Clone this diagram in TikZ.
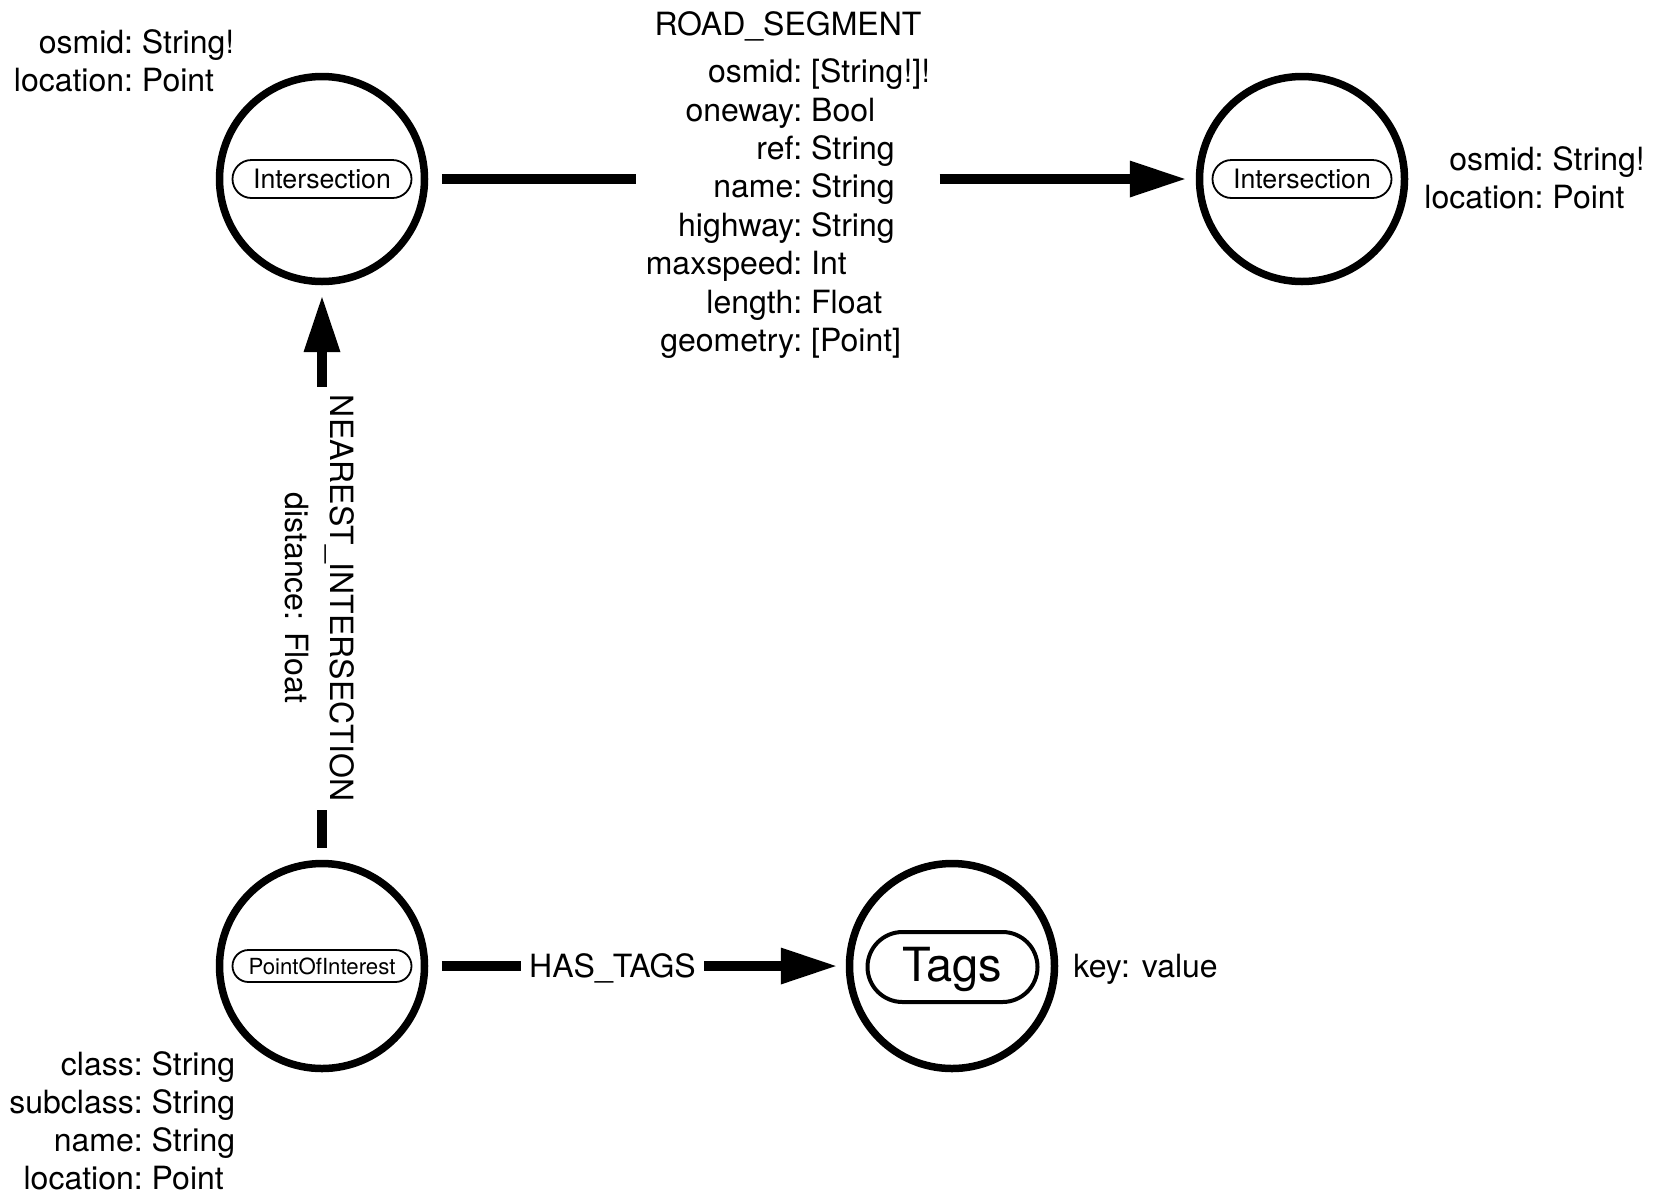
\documentclass[tikz,border=0pt]{standalone}
\usepackage{fontspec}
\setmainfont{TeX Gyre Heros}
\usetikzlibrary{arrows.meta,shapes.misc}
\begin{document}
\begin{tikzpicture}[x=0.5pt,y=-0.5pt,
  entity/.style={circle,draw,line width=3.75pt,minimum size=102.5pt,inner sep=0pt},
  pill/.style={rounded rectangle,draw,line width=0.9pt,inner sep=0pt},
  rel/.style={line width=5pt},
  relarrow/.style={rel,-{Triangle[length=27.5pt,width=18.5pt,line width=0pt]}},
  props/.style={inner sep=0pt,anchor=base west,font=\fontsize{16pt}{19.1pt}\selectfont},
  lbl/.style={font=\fontsize{16pt}{19.1pt}\selectfont}
]
\useasboundingbox (0,0) rectangle (1653,1200);

% entities
\node[entity] (i1) at (322,179) {};
\node[pill,minimum width=89.5pt,minimum height=19pt,font=\fontsize{13.35pt}{16pt}\selectfont] (i1p) at (i1.center) {Intersection};
\node[entity] (i2) at (1302,179) {};
\node[pill,minimum width=89.5pt,minimum height=19pt,font=\fontsize{13.35pt}{16pt}\selectfont] (i2p) at (i2.center) {Intersection};
\node[entity] (poi) at (322,966) {};
\node[pill,minimum width=89.5pt,minimum height=16pt,font=\fontsize{11.1pt}{13pt}\selectfont] (poip) at (poi.center) {PointOfInterest};
\node[entity] (tags) at (952,966) {};
\node[pill,line width=2pt,minimum width=85pt,minimum height=35pt,text depth=2.5pt,font=\fontsize{23.5pt}{27pt}\selectfont] (tagsp) at (952.5,967) {Tags};

% properties
\node[props] (i1props) at (13.5,53.5) {\begin{tabular}[t]{@{}r@{:\ }l@{}}osmid&String!\\location&Point\end{tabular}};
\node[props] (i2props) at (1424,170.5) {\begin{tabular}[t]{@{}r@{:\ }l@{}}osmid&String!\\location&Point\end{tabular}};
\node[props] (poiprops) at (9,1075) {\begin{tabular}[t]{@{}r@{:\ }l@{}}class&String\\subclass&String\\name&String\\location&Point\end{tabular}};
\node[lbl,anchor=base west,inner sep=0pt] (tagsprops) at (1073,977.5) {key: value};

% relationship labels
\node[props,inner xsep=4.5pt,font=\fontsize{16pt}{19.2pt}\selectfont] (rs) at (636.4,35) {\begin{tabular}[t]{@{}r@{:\ }l@{}}\multicolumn{2}{@{}c@{}}{ROAD\_SEGMENT}\\[4.6pt]osmid&[String!]!\\oneway&Bool\\ref&String\\name&String\\highway&String\\maxspeed&Int\\length&Float\\geometry&[Point]\end{tabular}};
\node[lbl,anchor=base,inner xsep=4pt,inner ysep=0pt] (ht) at (612.5,977.5) {HAS\_TAGS};
\node[font=\fontsize{16pt}{22.5pt}\selectfont,align=center,rotate=-90,inner xsep=4pt,inner ysep=0pt] (ni) at (320,598) {NEAREST\_INTERSECTION\\distance: Float};

% connectors
\coordinate (rsL) at (rs.west |- i1.center);
\coordinate (rsR) at (rs.east |- i2.center);
\draw[rel,shorten <=6.75pt] (i1) -- (rsL);
\draw[relarrow,shorten >=5.5pt] (rsR) -- (i2);

\coordinate (niB) at (ni.east -| poi.center);
\coordinate (niT) at (ni.west -| i1.center);
\draw[rel,shorten <=5.9pt] (poi) -- (niB);
\draw[relarrow,shorten >=5.9pt] (niT) -- (i1);

\coordinate (htL) at (ht.west |- poi.center);
\coordinate (htR) at (ht.east |- tags.center);
\draw[rel,shorten <=6.75pt] (poi) -- (htL);
\draw[relarrow,shorten >=5pt] (htR) -- (tags);
\end{tikzpicture}
\end{document}
